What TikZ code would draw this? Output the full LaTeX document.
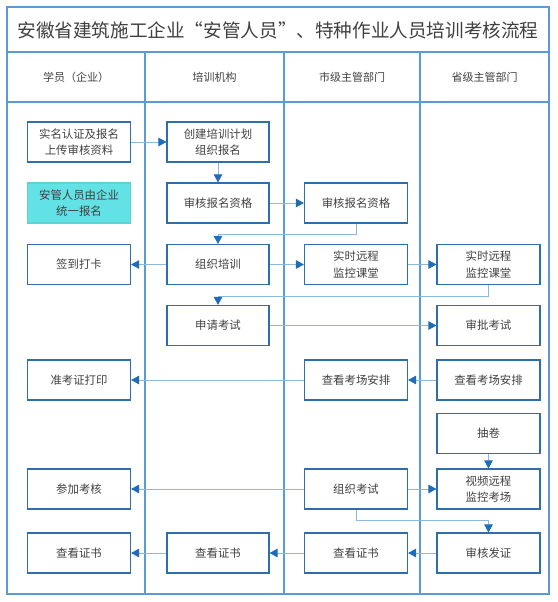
\documentclass[tikz,border=0pt]{standalone}
\usepackage{fontspec}
\setmainfont{Noto Sans CJK SC}
\usetikzlibrary{arrows.meta}
\definecolor{frameblue}{HTML}{5B9BD5}
\definecolor{boxblue}{HTML}{2E6EAA}
\definecolor{linkblue}{HTML}{8DB8DF}
\definecolor{tipblue}{HTML}{1F6CB8}
\definecolor{textgray}{HTML}{404040}
\definecolor{cyanfill}{HTML}{62E2E4}
\begin{document}
\begin{tikzpicture}[x=1pt,y=-1pt,
  frame/.style={draw=frameblue,line width=1.3pt},
  box/.style={draw=boxblue,line width=1.1pt,minimum width=103pt,minimum height=40pt,
    align=center,text=textgray,font=\fontsize{11.4pt}{16.5pt}\selectfont,inner sep=1pt},
  cbox/.style={box,draw=cyanfill!80!black!30!cyanfill,fill=cyanfill},
  conn/.style={draw=linkblue,line width=0.9pt,-{Triangle[length=8pt,width=8.5pt,color=tipblue]}},
  head/.style={text=textgray,font=\fontsize{11pt}{12pt}\selectfont}]
\useasboundingbox (0,0) rectangle (557,602);
% frame
\draw[frame] (7,7) rectangle (549,594);
\draw[frame] (7,52) -- (549,52);
\draw[frame] (7,102) -- (549,102);
\draw[frame] (145,52) -- (145,594);
\draw[frame] (284,52) -- (284,594);
\draw[frame] (420,52) -- (420,594);
\node[text=textgray,font=\fontsize{18.6pt}{20pt}\selectfont] (title) at (278,30) {安徽省建筑施工企业“安管人员”、特种作业人员培训考核流程};
\node[head] (h1) at (76,77) {学员（企业）};
\node[head] (h2) at (214.5,77) {培训机构};
\node[head] (h3) at (352,77) {市级主管部门};
\node[head] (h4) at (484.5,77) {省级主管部门};
% column 1
\node[box] (a1) at (79,142) {实名认证及报名\\上传审核资料};
\node[cbox] (a2) at (79,203) {安管人员由企业\\统一报名};
\node[box] (a3) at (79,264.5) {签到打卡};
\node[box] (a5) at (79,380) {准考证打印};
\node[box] (a7) at (79,489) {参加考核};
\node[box] (a8) at (79,553) {查看证书};
% column 2
\node[box,minimum width=102pt] (b1) at (218,142) {创建培训计划\\组织报名};
\node[box,minimum width=102pt] (b2) at (218,203) {审核报名资格};
\node[box,minimum width=102pt] (b3) at (218,264.5) {组织培训};
\node[box,minimum width=102pt] (b4) at (218,325.5) {申请考试};
\node[box,minimum width=102pt] (b8) at (218,553) {查看证书};
% column 3
\node[box] (c2) at (356,203) {审核报名资格};
\node[box] (c3) at (356,264.5) {实时远程\\监控课堂};
\node[box] (c5) at (356,380) {查看考场安排};
\node[box] (c7) at (356,489) {组织考试};
\node[box] (c8) at (356,553) {查看证书};
% column 4
\node[box] (d3) at (488.5,264.5) {实时远程\\监控课堂};
\node[box] (d4) at (488.5,325.5) {审批考试};
\node[box] (d5) at (488.5,380) {查看考场安排};
\node[box] (d6) at (488.5,433.5) {抽卷};
\node[box] (d7) at (488.5,489) {视频远程\\监控考场};
\node[box] (d8) at (488.5,553) {审核发证};
% connectors
\draw[conn] (a1) -- (b1);
\draw[conn] (b1) -- (b2);
\draw[conn] (b2) -- (c2);
\draw[conn] (c2.south) -- ++(0,11) -| (b3.north);
\draw[conn] (b3) -- (a3);
\draw[conn] (b3) -- (c3);
\draw[conn] (c3) -- (d3);
\draw[conn] (d3.south) -- ++(0,11) -| (b4.north);
\draw[conn] (b4) -- (d4);
\draw[conn] (d5) -- (c5);
\draw[conn] (c5) -- (a5);
\draw[conn] (d6) -- (d7);
\draw[conn] (c7) -- (d7);
\draw[conn] (c7) -- (a7);
\draw[conn] (c7.south) -- ++(0,11) -| (d8.north);
\draw[conn] (d8) -- (c8);
\draw[conn] (c8) -- (b8);
\draw[conn] (b8) -- (a8);
\end{tikzpicture}
\end{document}
